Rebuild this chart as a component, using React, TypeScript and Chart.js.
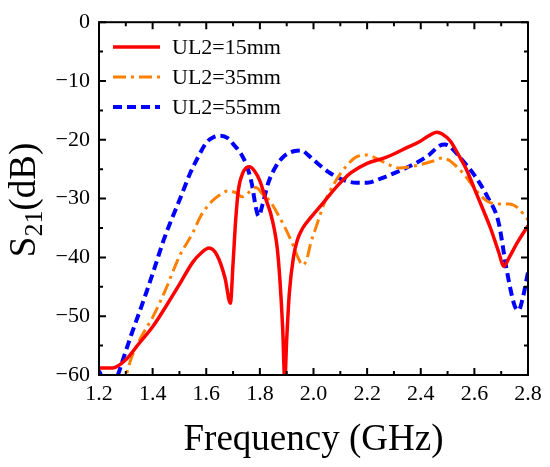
import { useEffect, useRef } from 'react';
import { Chart, registerables } from 'chart.js';

Chart.register(...registerables);

// UL2 = 15 mm (red, solid)
const freq15 = [
  1.2, 1.25, 1.3, 1.35, 1.4, 1.45, 1.5, 1.55, 1.58, 1.61, 1.64, 1.67, 1.69, 1.7, 1.71, 1.72,
  1.735, 1.76, 1.78, 1.8, 1.82, 1.84, 1.855, 1.865, 1.875, 1.885, 1.893, 1.9, 1.91, 1.925,
  1.94, 1.96, 1.99, 2.04, 2.09, 2.14, 2.2, 2.27, 2.35, 2.4, 2.43, 2.46, 2.48, 2.51, 2.54,
  2.57, 2.6, 2.63, 2.66, 2.69, 2.71, 2.73, 2.76, 2.8,
];
const s21_15 = [
  -58.8, -58.8, -57.4, -54.6, -51.8, -48.3, -44.6, -40.8, -39.3, -38.4, -39.6, -43.5, -47.8,
  -41, -33.5, -28.5, -25.8, -24.6, -25.3, -27, -29.8, -32.5, -35.5, -38.5, -44, -52, -61,
  -54, -46, -40, -37, -35, -33.2, -30.5, -27.8, -25.6, -24, -23, -21.3, -20.2, -19.3, -18.7,
  -19, -20.2, -22.5, -25, -28.3, -31.6, -35, -39, -41.5, -40, -37.5, -34.6,
];

// UL2 = 35 mm (orange, dash-dot)
const freq35 = [
  1.28, 1.3, 1.32, 1.36, 1.4, 1.45, 1.5, 1.55, 1.58, 1.62, 1.65, 1.68, 1.71, 1.735, 1.76,
  1.785, 1.81, 1.84, 1.865, 1.89, 1.92, 1.94, 1.96, 1.975, 1.99, 2.01, 2.04, 2.08, 2.12,
  2.16, 2.2, 2.24, 2.28, 2.32, 2.36, 2.4, 2.44, 2.48, 2.51, 2.53, 2.56, 2.59, 2.62, 2.65,
  2.68, 2.73, 2.76, 2.8,
];
const s21_35 = [
  -62.5, -60.2, -57.2, -53.3, -50.2, -45.3, -39.8, -35.8, -32.9, -30.5, -29.4, -28.7, -29,
  -29.7, -28.9, -28.1, -29.2, -30.6, -32.5, -34.6, -37.5, -39.8, -41.3, -40.3, -37.5, -34.8,
  -30.8, -27.2, -24.6, -22.9, -22.6, -23.3, -24.2, -24.8, -24.6, -24.2, -23.7, -23.1, -23.6,
  -24.4, -25.8, -27.6, -29.3, -30.5, -30.9, -30.9, -31.5, -33.6,
];

// UL2 = 55 mm (blue, dashed)
const freq55 = [
  1.2, 1.22, 1.25, 1.27, 1.29, 1.32, 1.35, 1.38, 1.41, 1.44, 1.47, 1.5, 1.54, 1.57, 1.6,
  1.625, 1.65, 1.68, 1.7, 1.73, 1.75, 1.77, 1.785, 1.795, 1.81, 1.83, 1.86, 1.89, 1.93,
  1.955, 1.98, 2.02, 2.06, 2.11, 2.16, 2.2, 2.25, 2.32, 2.38, 2.43, 2.47, 2.49, 2.51, 2.55,
  2.6, 2.65, 2.69, 2.72, 2.75, 2.765, 2.78, 2.8,
];
const s21_55 = [
  -59.3, -61, -61.2, -60, -57.3, -53.2, -49.4, -45.5, -41.4, -37.2, -33.6, -30.3, -25.7,
  -22.9, -20.5, -19.6, -19.3, -19.7, -20.7, -22.4, -24.3, -27.5, -31.5, -33, -31, -27.5,
  -24.5, -22.8, -21.9, -21.8, -22.6, -24.2, -25.6, -26.8, -27.3, -27.3, -26.6, -25.3, -24,
  -22.6, -21, -20.8, -21.2, -23.2, -26, -29.8, -34, -42, -48.2, -49, -47, -42.5,
];

const seriesLabels = ['UL2=15mm', 'UL2=35mm', 'UL2=55mm'];

const serif = "'Liberation Serif', 'Times New Roman', serif";

const toPoints = (xs: number[], ys: number[]) => xs.map((x, i) => ({ x, y: ys[i] }));

// black box round the plot with inward major and minor ticks on all four sides
const framePlugin = {
  id: 'frame',
  afterDatasetsDraw(chart: any) {
    const { ctx, chartArea: a, scales } = chart;
    ctx.save();
    ctx.strokeStyle = '#000';
    ctx.lineWidth = 2;
    ctx.strokeRect(a.left, a.top, a.right - a.left, a.bottom - a.top);

    const drawTicks = (scale: any, horizontal: boolean) => {
      const ticks = scale.ticks;
      ticks.forEach((t: any, i: number) => {
        const marks = [{ v: t.value, len: 7 }];
        if (i < ticks.length - 1) marks.push({ v: (t.value + ticks[i + 1].value) / 2, len: 4 });
        marks.forEach(({ v, len }) => {
          const p = scale.getPixelForValue(v);
          ctx.beginPath();
          if (horizontal) {
            ctx.moveTo(p, a.bottom);
            ctx.lineTo(p, a.bottom - len);
            ctx.moveTo(p, a.top);
            ctx.lineTo(p, a.top + len);
          } else {
            ctx.moveTo(a.left, p);
            ctx.lineTo(a.left + len, p);
            ctx.moveTo(a.right, p);
            ctx.lineTo(a.right - len, p);
          }
          ctx.stroke();
        });
      });
    };
    drawTicks(scales.x, true);
    drawTicks(scales.y, false);
    ctx.restore();
  },
};

// legend inside the plot, upper left
const legendPlugin = {
  id: 'insideLegend',
  afterDraw(chart: any) {
    const { ctx } = chart;
    ctx.save();
    ctx.font = `22px ${serif}`;
    ctx.textBaseline = 'middle';
    ctx.fillStyle = '#000';
    chart.data.datasets.forEach((ds: any, i: number) => {
      const y = 47 + i * 30;
      ctx.beginPath();
      ctx.strokeStyle = ds.borderColor;
      ctx.lineWidth = ds.borderWidth;
      ctx.setLineDash(ds.borderDash || []);
      ctx.moveTo(113, y);
      ctx.lineTo(160, y);
      ctx.stroke();
      ctx.setLineDash([]);
      ctx.fillText(ds.label, 172, y + 1);
    });
    ctx.restore();
  },
};

// y title with a real subscript: S21(dB)
const yTitlePlugin = {
  id: 'yTitle',
  afterDraw(chart: any) {
    const { ctx } = chart;
    const big = `37px ${serif}`;
    const small = `26px ${serif}`;
    ctx.save();
    ctx.font = big;
    const wS = ctx.measureText('S').width;
    const wUnit = ctx.measureText('(dB)').width;
    ctx.font = small;
    const wSub = ctx.measureText('21').width;
    const total = wS + wSub + wUnit;
    ctx.translate(35, 200);
    ctx.rotate(-Math.PI / 2);
    ctx.fillStyle = '#000';
    ctx.textBaseline = 'alphabetic';
    let x = -total / 2;
    ctx.font = big;
    ctx.fillText('S', x, 0);
    x += wS;
    ctx.font = small;
    ctx.fillText('21', x, 7);
    x += wSub;
    ctx.font = big;
    ctx.fillText('(dB)', x, 0);
    ctx.restore();
  },
};

export default function App() {
  const canvasRef = useRef<HTMLCanvasElement>(null);

  useEffect(() => {
    document.body.style.margin = '0';
    if (!canvasRef.current) return;

    const chart = new Chart(canvasRef.current, {
      type: 'line',
      data: {
        datasets: [
          {
            label: seriesLabels[0],
            data: toPoints(freq15, s21_15),
            borderColor: '#ff0000',
            borderWidth: 3.5,
          },
          {
            label: seriesLabels[1],
            data: toPoints(freq35, s21_35),
            borderColor: '#ff8000',
            borderWidth: 3,
            borderDash: [13, 5, 3, 5],
          },
          {
            label: seriesLabels[2],
            data: toPoints(freq55, s21_55),
            borderColor: '#0000ff',
            borderWidth: 4,
            borderDash: [9, 5],
          },
        ].map((ds) => ({
          ...ds,
          pointRadius: 0,
          fill: false,
          clip: 0,
          cubicInterpolationMode: 'monotone' as const,
        })),
      },
      options: {
        animation: false,
        responsive: true,
        maintainAspectRatio: false,
        layout: { padding: { left: 0, right: 22, top: 16, bottom: 0 } },
        plugins: {
          legend: { display: false },
          tooltip: { enabled: false },
        },
        scales: {
          x: {
            type: 'linear',
            min: 1.2,
            max: 2.8,
            grid: { display: false, drawTicks: false },
            border: { display: false },
            ticks: {
              stepSize: 0.2,
              padding: 6,
              color: '#000',
              font: { family: serif, size: 22 },
              callback: (v: any) => Number(v).toFixed(1),
            },
            title: {
              display: true,
              text: 'Frequency (GHz)',
              color: '#000',
              font: { family: serif, size: 37 },
              padding: { top: 0, bottom: 5 },
            },
            afterFit: (scale: any) => {
              scale.height = 92;
            },
          },
          y: {
            min: -60,
            max: 0,
            grid: { display: false, drawTicks: false },
            border: { display: false },
            ticks: {
              stepSize: 10,
              padding: 9,
              color: '#000',
              font: { family: serif, size: 22 },
              callback: (v: any) => String(v).replace('-', '\u2212'),
            },
            afterFit: (scale: any) => {
              scale.width = 99;
            },
          },
        },
      },
      plugins: [framePlugin, legendPlugin, yTitlePlugin],
    });

    return () => chart.destroy();
  }, []);

  return (
    <div style={{ position: 'relative', width: 550, height: 467 }}>
      <canvas ref={canvasRef} />
    </div>
  );
}
